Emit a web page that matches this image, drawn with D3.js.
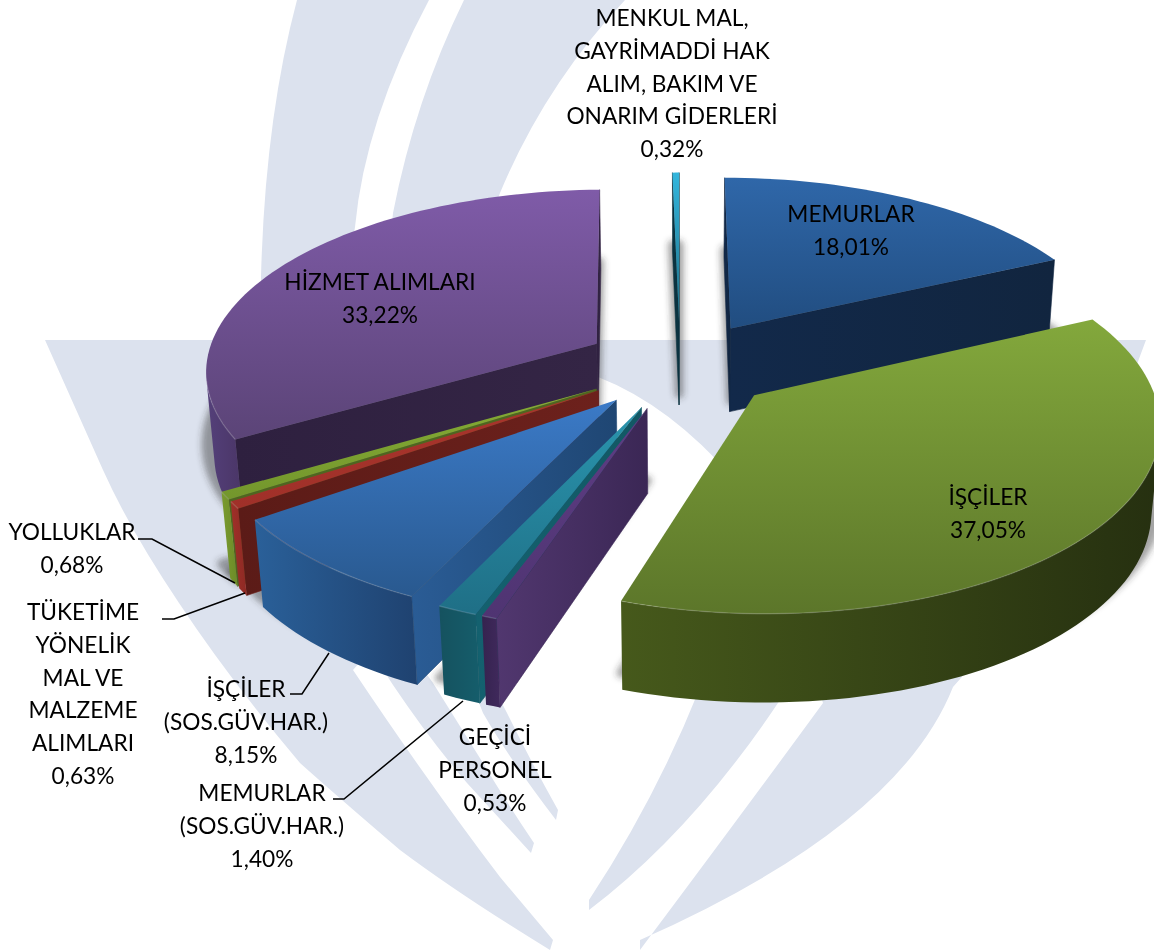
<!DOCTYPE html>
<html>
<head>
<meta charset="utf-8">
<style>
  html, body { margin: 0; padding: 0; background: #fff; }
  svg { display: block; }
  text { font-family: Lato, "Open Sans", sans-serif; font-size: 22.7px; fill: #000; text-anchor: middle; }
</style>
</head>
<body>
<svg width="1154" height="950"></svg>
<script src="https://cdn.jsdelivr.net/npm/d3@7"></script>
<script>
// Chart data, clockwise from the top of the pie
const names = ["memurlar", "isciler", "gecici", "memurlarSos", "iscilerSos", "tuketime", "yolluklar", "hizmet", "menkul"];
const values = [18.01, 37.05, 0.53, 1.40, 8.15, 0.63, 0.68, 33.22, 0.32];
const labelLines = [
    ["MEMURLAR"],
    ["İŞÇİLER"],
    ["GEÇİCİ", "PERSONEL"],
    ["MEMURLAR", "(SOS.GÜV.HAR.)"],
    ["İŞÇİLER", "(SOS.GÜV.HAR.)"],
    ["TÜKETİME", "YÖNELİK", "MAL VE", "MALZEME", "ALIMLARI"],
    ["YOLLUKLAR"],
    ["HİZMET ALIMLARI"],
    ["MENKUL MAL,", "GAYRİMADDİ HAK", "ALIM, BAKIM VE", "ONARIM GİDERLERİ"]
];

// Colours per slice: top face from/to, outer wall from/to, radial wall from/to
const topColors = [["#2f67a9", "#214d80"], ["#83a83c", "#5c762a"], ["#5e3d84", "#4f3472"], ["#2a95ae", "#1f6f86"], ["#3b7ac7", "#29598f"], ["#a9352c", "#a03029"], ["#86ad36", "#73962c"], ["#7f5ba8", "#5b4477"], ["#33b6dd", "#1c6e86"]];
const wallColors = [["#12294a", "#12294a"], ["#46591b", "#263010"], ["#35234f", "#40295c"], ["#15525f", "#155d6b"], ["#2a6099", "#1f4270"], ["#a03029", "#8e2a24"], ["#7a9b2e", "#6c8b28"], ["#54407a", "#4a3566"], ["#0d3a48", "#0d3a48"]];
const sideColors = [["#12294a", "#11253f"], ["#46591b", "#46591b"], ["#51376f", "#3b2755"], ["#14616f", "#125864"], ["#2a5c95", "#1f4673"], ["#5b1b17", "#6d211c"], ["#4f6620", "#4f6620"], ["#2e203f", "#342545"], ["#0b3340", "#0b3340"]];

// Back to front, the camera sits right of the small slices
const drawOrder = ["menkul", "memurlar", "hizmet", "yolluklar", "tuketime", "isciler", "iscilerSos", "memurlarSos", "gecici"];

// Where the text goes: centre x and first baseline
const labelPos = {
    memurlar: [851, 222], isciler: [988, 505], gecici: [495, 745],
    memurlarSos: [262, 801], iscilerSos: [246, 697], tuketime: [83, 620],
    yolluklar: [72, 540], hizmet: [380, 290], menkul: [672, 26]
};
const leaders = [
    [[138, 539], [152, 539], [235, 583]],
    [[162, 619], [174, 619], [245, 593]],
    [[290, 694], [302, 694], [329, 653]],
    [[333, 799], [344, 799], [463, 701]]
];
const lineHeight = 32.8;

// Pie camera
const cx = 680, cy = 365;
const radius = 445, explode = 110;
const tilt = 0.46;
const persp0 = 1.136, perspY = 0.000344, shrinkBottom = 0.02;

const svg = d3.select("svg");
const defs = svg.append("defs");

// project a ground plane point, z is 0 for the top face and 1 for the bottom
function project(X, Y, z) {
    const w = persp0 + perspY * Y + z * shrinkBottom;
    const s = 1 / w;
    const s0 = 1 / (persp0 + perspY * Y);
    const drop = z ? 81 + 60 * (s0 - 0.83) : 0;
    return [cx + X * s, cy - Y * tilt * s + drop];
}

const arcs = d3.pie().sort(null).value(d => d)(values);

const slices = arcs.map((a, i) => {
    const mid = (a.startAngle + a.endAngle) / 2;
    const ax = explode * Math.sin(mid), ay = explode * Math.cos(mid);
    const n = Math.max(2, Math.ceil((a.endAngle - a.startAngle) / 0.03));
    const ring = d3.range(n + 1).map(k => {
        const t = a.startAngle + (a.endAngle - a.startAngle) * k / n;
        return [ax + radius * Math.sin(t), ay + radius * Math.cos(t)];
    });
    return { i, name: names[i], apex: [ax, ay], ring };
});

const line = d3.line();
const closed = pts => line(pts) + "Z";

function quad(P, Q) {
    return [project(P[0], P[1], 0), project(Q[0], Q[1], 0), project(Q[0], Q[1], 1), project(P[0], P[1], 1)];
}
// d3.polygonArea is positive for the faces turned to the camera here
const facing = q => d3.polygonArea(q) > 0;

function gradient(id, from, to, horizontal) {
    const g = defs.append("linearGradient").attr("id", id)
        .attr("x1", 0).attr("y1", 0)
        .attr("x2", horizontal ? 1 : 0).attr("y2", horizontal ? 0 : 1);
    g.append("stop").attr("offset", 0).attr("stop-color", from);
    g.append("stop").attr("offset", 1).attr("stop-color", to);
}

defs.append("filter").attr("id", "blur")
    .attr("x", "-20%").attr("y", "-20%").attr("width", "140%").attr("height", "140%")
    .append("feGaussianBlur").attr("stdDeviation", 3);

// Watermark behind the chart
const wm = svg.append("g").attr("fill", "#dce2ee");
[
    // main body, bar and the two long arms
    "M45,340 H1146 L1130,383 L1100,500 Q1040,590 953,687 Q898,826 640,940 L640,950 Q750,803 823,703 L780,560 L735,480 Q670,405 598,377 L500,500 L353,670 Q430,785 500,877 L553,940 L550,950 Q460,895 400,850 Q330,790 300,763 Q230,680 179,603 Q130,530 103,470 Z",
    // lower left thin stripes
    "M380,665 L393,685 Q430,740 467,783 L531,853 L534,843 Q505,800 483,763 L433,683 L420,665 Z",
    "M470,680 L483,713 Q510,760 556,820 L558,810 Q530,760 507,713 L490,680 Z",
    // lower right thin stripe
    "M699,690 Q655,800 589,900 L589,910 Q692,832 780,700 Z",
    // top strokes
    "M297,0 Q265,120 261,277 L262,345 L345,345 Q345,290 355,227 Q365,120 429,0 Z",
    "M464,0 Q415,100 393,213 L380,345 L470,345 Q470,270 500,193 Q545,85 625,0 Z"
].forEach(d => wm.append("path").attr("d", d));

// Soft shadows, the top faces pushed down
const shadows = svg.append("g").attr("filter", "url(#blur)");
slices.forEach(s => {
    const outline = [s.apex, ...s.ring].map(p => project(p[0], p[1], 0));
    shadows.append("path")
        .attr("d", closed(outline))
        .attr("transform", "translate(0,72)")
        .attr("fill", "#333")
        .attr("stroke", "#333")
        .attr("stroke-width", 9)
        .attr("stroke-linejoin", "round")
        .attr("opacity", 0.45);
});

// Slices, walls first and then the top
drawOrder.forEach(name => {
    const s = slices[names.indexOf(name)];
    const g = svg.append("g").attr("class", "slice " + name);
    gradient("top" + s.i, topColors[s.i][0], topColors[s.i][1], false);
    gradient("wall" + s.i, wallColors[s.i][0], wallColors[s.i][1], true);
    gradient("side" + s.i, sideColors[s.i][0], sideColors[s.i][1], true);

    // radial walls
    const first = s.ring[0], last = s.ring[s.ring.length - 1];
    [[s.apex, first], [last, s.apex]].forEach(([P, Q]) => {
        const q = quad(P, Q);
        if (facing(q) || name === "menkul") {
            g.append("path").attr("d", closed(q))
                .attr("fill", `url(#side${s.i})`)
                .attr("stroke", sideColors[s.i][1]).attr("stroke-width", 0.6);
        }
    });

    // outer wall, only the runs that face the camera
    let run = [];
    const runs = [];
    d3.pairs(s.ring).forEach(([P, Q]) => {
        if (facing(quad(P, Q))) {
            if (!run.length) run.push(P);
            run.push(Q);
        } else if (run.length) {
            runs.push(run);
            run = [];
        }
    });
    if (run.length) runs.push(run);
    runs.forEach(r => {
        const top = r.map(p => project(p[0], p[1], 0));
        const bottom = r.map(p => project(p[0], p[1], 1)).reverse();
        g.append("path").attr("d", closed(top.concat(bottom)))
            .attr("fill", `url(#wall${s.i})`);
    });

    // top face
    const outline = [s.apex, ...s.ring].map(p => project(p[0], p[1], 0));
    g.append("path").attr("d", closed(outline)).attr("fill", `url(#top${s.i})`);

    // light edge along the rim
    runs.forEach(r => {
        g.append("path").attr("d", line(r.map(p => project(p[0], p[1], 0))))
            .attr("fill", "none")
            .attr("stroke", "#fff").attr("stroke-opacity", 0.15).attr("stroke-width", 1.4);
    });
});

// Leader lines
const leaderLayer = svg.append("g").attr("fill", "none").attr("stroke", "#000").attr("stroke-width", 1.5);
leaders.forEach(pts => leaderLayer.append("path").attr("d", line(pts)));

// Labels
const pct = d3.format(".2f");
names.forEach((name, i) => {
    const [x, y] = labelPos[name];
    const lines = labelLines[i].concat(pct(values[i]).replace(".", ",") + "%");
    svg.append("text").selectAll("tspan").data(lines).join("tspan")
        .attr("x", x)
        .attr("y", (d, k) => y + k * lineHeight)
        .text(d => d);
});
</script>
</body>
</html>
